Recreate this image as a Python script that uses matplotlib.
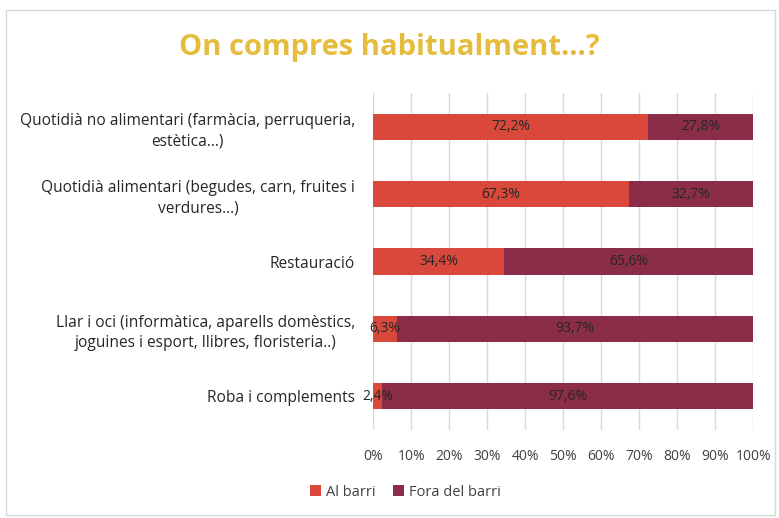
import matplotlib.pyplot as plt
import numpy as np
from matplotlib.patches import Rectangle

plt.rcParams["font.family"] = ["Open Sans", "DejaVu Sans"]

categories = [
    "Quotidià no alimentari (farmàcia, perruqueria,\nestètica...)",
    "Quotidià alimentari (begudes, carn, fruites i\nverdures...)",
    "Restauració",
    "Llar i oci (informàtica, aparells domèstics,\njoguines i esport, llibres, floristeria..)",
    "Roba i complements",
]
al_barri = [72.2, 67.3, 34.4, 6.3, 2.4]
fora_barri = [27.8, 32.7, 65.6, 93.7, 97.6]
series_names = ["Al barri", "Fora del barri"]
tick_values = list(range(0, 101, 10))

RED = "#D9483B"
WINE = "#8B2C48"
GRID = "#D9D9D9"
TEXT = "#404040"

fig = plt.figure(figsize=(7.79, 5.18), dpi=100)
fig.patch.set_facecolor("white")
ax = fig.add_axes([0.479, 0.170, 0.488, 0.650])

y = np.arange(len(categories))
h = 0.39
ax.barh(y, al_barri, height=h, color=RED, label=series_names[0], zorder=2)
ax.barh(y, fora_barri, left=al_barri, height=h, color=WINE, label=series_names[1], zorder=2)

for i, (a, f) in enumerate(zip(al_barri, fora_barri)):
    ax.text(a / 2, i, f"{a:.1f}%".replace(".", ","), ha="center", va="center",
            fontsize=10, color="#262626", zorder=3)
    ax.text(a + f / 2, i, f"{f:.1f}%".replace(".", ","), ha="center", va="center",
            fontsize=10, color="#262626", zorder=3)

ax.set_xlim(0, 100)
ax.set_ylim(len(categories) - 0.5, -0.5)
ax.set_xticks(tick_values)
ax.set_xticklabels([f"{v}%" for v in tick_values], fontsize=10, color=TEXT)
ax.set_yticks(y)
ax.set_yticklabels(categories, fontsize=11.2, color="#262626")
for lbl in ax.get_yticklabels():
    lbl.set_multialignment("center")
    lbl.set_linespacing(1.35)
ax.tick_params(axis="x", length=0, pad=14)
ax.tick_params(axis="y", length=0, pad=13)
ax.grid(axis="x", color=GRID, linewidth=1, zorder=0)
for spine in ax.spines.values():
    spine.set_visible(False)

fig.text(0.5, 0.908, "On compres habitualment...?", ha="center", va="center",
         fontsize=21, fontweight="bold", color="#E6BC3C")

ax.legend(loc="center", bbox_to_anchor=(405 / 779, 26 / 518), bbox_transform=fig.transFigure,
          ncol=2, frameon=False, fontsize=10.5, handlelength=0.8, handleheight=0.8,
          handletextpad=0.3, columnspacing=1.2, labelcolor=TEXT)

fig.patches.append(Rectangle((6 / 779, 3 / 518), 769 / 779, 505 / 518, transform=fig.transFigure,
                             fill=False, edgecolor=GRID, linewidth=1))

fig.savefig("out.png", dpi=100, facecolor="white")
